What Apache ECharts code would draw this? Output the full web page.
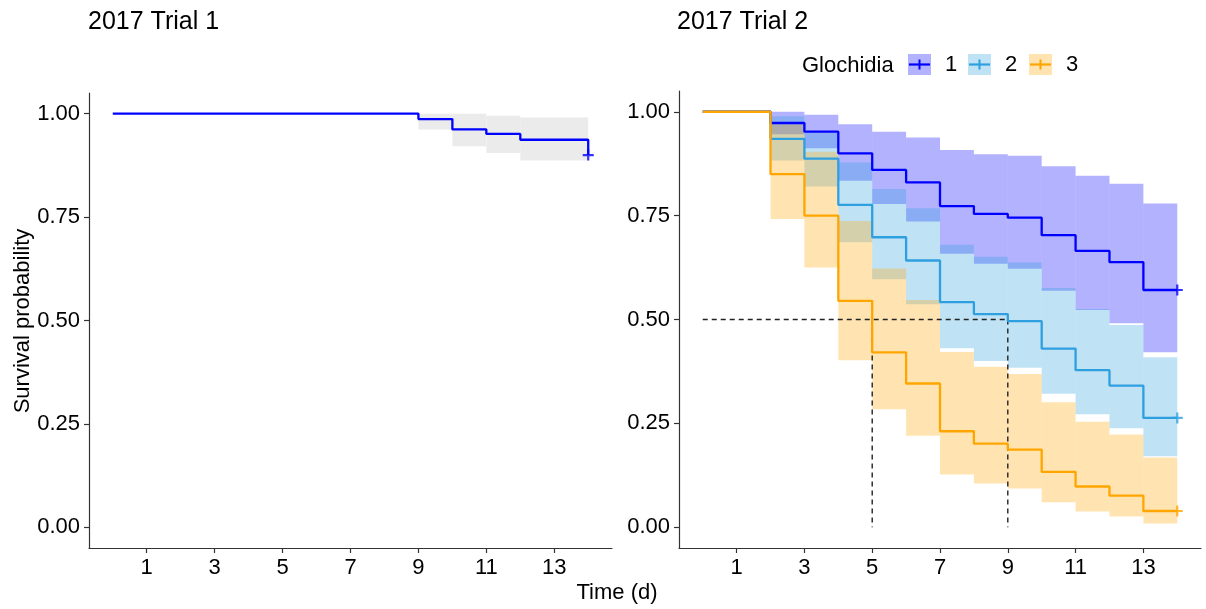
<!DOCTYPE html>
<html>
<head>
<meta charset="utf-8">
<script src="https://cdn.jsdelivr.net/npm/echarts@6/dist/echarts.min.js"></script>
<style>
  html, body { margin: 0; padding: 0; background: #fff; }
  #chart { width: 1206px; height: 609px; }
</style>
</head>
<body>
<div id="chart"></div>
<script>
  // 2017 Trial 1 (single curve)
  const t1Times = [0, 9, 10, 11, 12, 14]
  const t1Surv = [1, 0.987, 0.962, 0.951, 0.937, 0.90]
  const t1Upper = [1, 1, 1, 0.995, 0.991]
  const t1Lower = [1, 0.962, 0.921, 0.905, 0.887]

  // 2017 Trial 2, one curve per glochidia group
  const t2Times = [0, 2, 3, 4, 5, 6, 7, 8, 9, 10, 11, 12, 13, 14]
  const groupNames = ['1', '2', '3']
  const g1Surv = [1, 0.973, 0.952, 0.900, 0.860, 0.830, 0.773, 0.754, 0.745, 0.703, 0.665, 0.638, 0.571, 0.571]
  const g1Upper = [1, 1.0, 0.993, 0.970, 0.952, 0.938, 0.908, 0.898, 0.894, 0.869, 0.846, 0.827, 0.779]
  const g1Lower = [1, 0.946, 0.912, 0.834, 0.778, 0.736, 0.658, 0.634, 0.622, 0.569, 0.523, 0.491, 0.421]
  const g2Surv = [1, 0.935, 0.887, 0.776, 0.698, 0.642, 0.542, 0.513, 0.496, 0.430, 0.378, 0.341, 0.263, 0.263]
  const g2Upper = [1, 0.989, 0.950, 0.878, 0.814, 0.768, 0.680, 0.651, 0.637, 0.576, 0.525, 0.487, 0.409]
  const g2Lower = [1, 0.883, 0.820, 0.686, 0.597, 0.537, 0.431, 0.400, 0.384, 0.321, 0.272, 0.238, 0.171]
  const g3Surv = [1, 0.850, 0.750, 0.545, 0.421, 0.346, 0.231, 0.201, 0.187, 0.133, 0.098, 0.076, 0.039, 0.039]
  const g3Upper = [1, 0.970, 0.904, 0.737, 0.623, 0.547, 0.422, 0.386, 0.369, 0.301, 0.254, 0.223, 0.168]
  const g3Lower = [1, 0.742, 0.625, 0.402, 0.284, 0.220, 0.127, 0.105, 0.093, 0.060, 0.038, 0.026, 0.009]

  // median survival guide lines
  const medianLevel = 0.5
  const medianTimes = [5, 9]

  const xTicks = [1, 3, 5, 7, 9, 11, 13]
  const yTicks = [0, 0.25, 0.5, 0.75, 1]

  const lineColors = ['#0000ff', '#2e9fdf', '#ffa500']
  const fillColors = ['rgba(0,0,255,0.3)', 'rgba(46,159,223,0.3)', 'rgba(255,165,0,0.3)']
  const FONT = 'Liberation Sans, Arial, sans-serif'

  const groups = [
    { surv: g1Surv, upper: g1Upper, lower: g1Lower },
    { surv: g2Surv, upper: g2Upper, lower: g2Lower },
    { surv: g3Surv, upper: g3Upper, lower: g3Lower }
  ]

  function stepPoints (times, surv) {
    return times.map((t, i) => [t, surv[i]])
  }
  function bandRects (times, lower, upper) {
    return lower.map((lo, i) => [times[i], times[i + 1], lo, upper[i]])
  }
  function bandItem (color) {
    return function (params, api) {
      const p0 = api.coord([api.value(0), api.value(3)])
      const p1 = api.coord([api.value(1), api.value(2)])
      return {
        type: 'rect',
        shape: { x: p0[0], y: p0[1], width: p1[0] - p0[0], height: p1[1] - p0[1] },
        style: { fill: color }
      }
    }
  }
  const plusPath = 'path://M4,0H6V4H10V6H6V10H4V6H0V4H4Z'

  function xAxisFor (idx) {
    return {
      type: 'value', gridIndex: idx, min: -0.7, max: 14.7,
      splitLine: { show: false },
      axisLine: { onZero: false, lineStyle: { color: '#333', width: 1.2 } },
      axisTick: { customValues: xTicks, length: 5, lineStyle: { color: '#333', width: 1.2 } },
      axisLabel: { customValues: xTicks, margin: 9, color: '#000', fontSize: 22, fontFamily: FONT }
    }
  }
  function yAxisFor (idx) {
    return {
      type: 'value', gridIndex: idx, min: -0.05, max: 1.05,
      splitLine: { show: false },
      axisLine: { onZero: false, lineStyle: { color: '#333', width: 1.2 } },
      axisTick: { customValues: yTicks, length: 5, lineStyle: { color: '#333', width: 1.2 } },
      axisLabel: {
        customValues: yTicks, margin: 9, color: '#000', fontSize: 22, fontFamily: FONT,
        formatter: v => v.toFixed(2)
      }
    }
  }

  const series = []

  // panel 1
  series.push({
    type: 'custom', xAxisIndex: 0, yAxisIndex: 0, silent: true, z: 1,
    renderItem: bandItem('#ebebeb'),
    encode: { x: [0, 1], y: [2, 3] },
    data: bandRects(t1Times, t1Lower, t1Upper)
  })
  series.push({
    type: 'line', xAxisIndex: 0, yAxisIndex: 0, step: 'end', showSymbol: false, silent: true, z: 3,
    lineStyle: { color: lineColors[0], width: 2.3 },
    data: stepPoints(t1Times, t1Surv)
  })
  series.push({
    type: 'scatter', xAxisIndex: 0, yAxisIndex: 0, silent: true, z: 4,
    symbol: plusPath, symbolSize: 11, itemStyle: { color: lineColors[0] },
    data: [[t1Times[t1Times.length - 1], t1Surv[t1Surv.length - 1]]]
  })

  // panel 2: bands
  groups.forEach((g, i) => {
    series.push({
      type: 'custom', xAxisIndex: 1, yAxisIndex: 1, silent: true, z: 1,
      renderItem: bandItem(fillColors[i]),
      encode: { x: [0, 1], y: [2, 3] },
      data: bandRects(t2Times, g.lower, g.upper)
    })
  })
  // median lines
  const dashStyle = { color: '#222', width: 1.4, type: [5, 4] }
  series.push({
    type: 'line', xAxisIndex: 1, yAxisIndex: 1, showSymbol: false, silent: true, z: 2,
    lineStyle: dashStyle,
    data: [[0, medianLevel], [Math.max(...medianTimes), medianLevel]]
  })
  medianTimes.forEach(t => {
    series.push({
      type: 'line', xAxisIndex: 1, yAxisIndex: 1, showSymbol: false, silent: true, z: 2,
      lineStyle: dashStyle,
      data: [[t, medianLevel], [t, 0]]
    })
  })
  // curves and censor marks
  groups.forEach((g, i) => {
    series.push({
      type: 'line', xAxisIndex: 1, yAxisIndex: 1, step: 'end', showSymbol: false, silent: true, z: 3,
      lineStyle: { color: lineColors[i], width: 2.3 },
      data: stepPoints(t2Times, g.surv)
    })
    series.push({
      type: 'scatter', xAxisIndex: 1, yAxisIndex: 1, silent: true, z: 4,
      symbol: plusPath, symbolSize: 11, itemStyle: { color: lineColors[i] },
      data: [[t2Times[t2Times.length - 1], g.surv[g.surv.length - 1]]]
    })
  })

  // legend drawn by hand (fill box + line with plus)
  const legendBoxX = [908, 968, 1029]
  const legendGraphics = [{
    type: 'text', x: 802, y: 66,
    style: { text: 'Glochidia', font: '22px ' + FONT, fill: '#000', verticalAlign: 'middle' }
  }]
  groupNames.forEach((name, i) => {
    const bx = legendBoxX[i]
    legendGraphics.push({ type: 'rect', shape: { x: bx, y: 54, width: 23, height: 21 }, style: { fill: fillColors[i] } })
    legendGraphics.push({ type: 'line', shape: { x1: bx + 1, y1: 64.5, x2: bx + 22, y2: 64.5 }, style: { stroke: lineColors[i], lineWidth: 2.2 } })
    legendGraphics.push({ type: 'line', shape: { x1: bx + 11.5, y1: 59.5, x2: bx + 11.5, y2: 69.5 }, style: { stroke: lineColors[i], lineWidth: 2 } })
    legendGraphics.push({
      type: 'text', x: bx + 37, y: 65,
      style: { text: name, font: '22px ' + FONT, fill: '#000', verticalAlign: 'middle' }
    })
  })

  const chart = echarts.init(document.getElementById('chart'))
  chart.setOption({
    animation: false,
    backgroundColor: '#fff',
    grid: [
      { left: 89, top: 93, width: 523, height: 455 },
      { left: 679, top: 91, width: 522, height: 457 }
    ],
    xAxis: [xAxisFor(0), xAxisFor(1)],
    yAxis: [yAxisFor(0), yAxisFor(1)],
    series: series,
    graphic: [
      { type: 'text', x: 88, y: 22, style: { text: '2017 Trial 1', font: '25px ' + FONT, fill: '#000', verticalAlign: 'middle' } },
      { type: 'text', x: 677, y: 22, style: { text: '2017 Trial 2', font: '25px ' + FONT, fill: '#000', verticalAlign: 'middle' } },
      { type: 'text', x: 617, y: 593, style: { text: 'Time (d)', font: '22px ' + FONT, fill: '#000', align: 'center', verticalAlign: 'middle' } },
      {
        type: 'text', x: 23, y: 321, rotation: Math.PI / 2,
        style: { text: 'Survival probability', font: '22px ' + FONT, fill: '#000', align: 'center', verticalAlign: 'middle' }
      }
    ].concat(legendGraphics)
  })
</script>
</body>
</html>
